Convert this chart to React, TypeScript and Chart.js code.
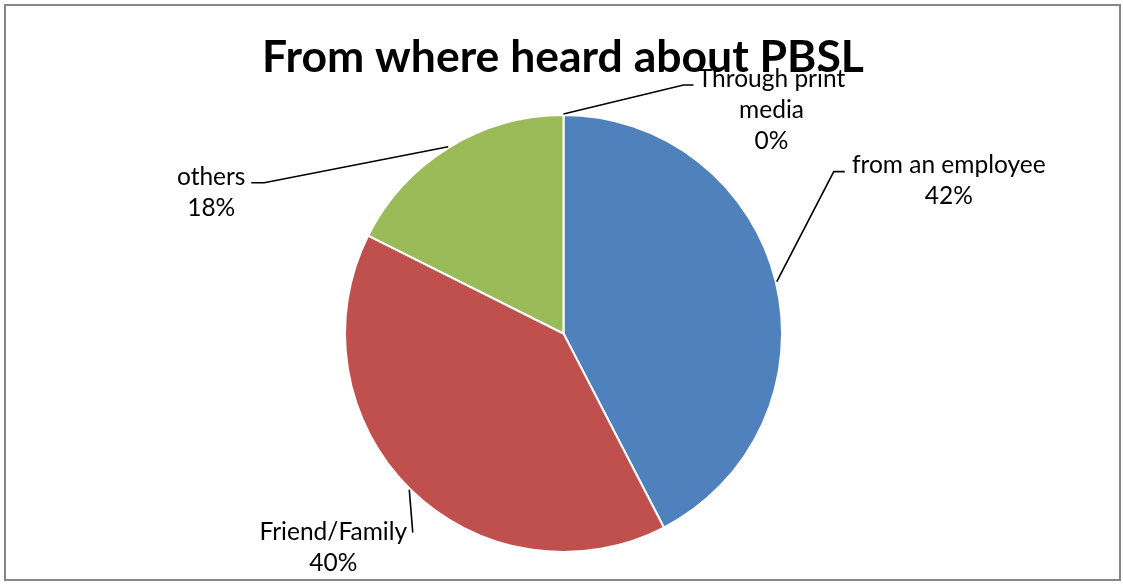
import React, { useEffect, useRef } from "react";
import { Chart, registerables } from "chart.js";

Chart.register(...registerables);

const TITLE = "From where heard about PBSL";
const categories = ["from an employee", "Friend/Family", "others", "Through print media"];
const labelLines = [["from an employee"], ["Friend/Family"], ["others"], ["Through print", "media"]];
const values = [42.4, 40.0, 17.6, 0];
const colors = ["#4F81BD", "#C0504D", "#9BBB59", "#8064A2"];

// label layout relative to the slice's anchor point on the rim
// elbow: leader bend, end: leader end, text: [centerX, firstLineY] offsets
const labelLayout = [
  { elbow: [57, -110], end: [68, -110], text: [172, -116] },
  { elbow: [3.5, 43], end: [3.5, 43], text: [-76, 42] },
  { elbow: [-184, 36], end: [-197, 36], text: [-237, 30] },
  { elbow: [120, -29], end: [130, -29], text: [208, -35] },
];

const FONT = "Lato, 'Open Sans', sans-serif";

const overlay = {
  id: "overlay",
  beforeDraw(chart: any) {
    const ctx = chart.ctx;
    ctx.save();
    ctx.fillStyle = "#ffffff";
    ctx.fillRect(0, 0, chart.width, chart.height);
    ctx.restore();
  },
  afterDatasetsDraw(chart: any) {
    const ctx = chart.ctx;
    const meta = chart.getDatasetMeta(0);
    const data = chart.data.datasets[0].data as number[];
    const total = data.reduce((a, b) => a + b, 0);
    ctx.save();
    // frame
    ctx.strokeStyle = "#878787";
    ctx.lineWidth = 2;
    ctx.strokeRect(5, 5, chart.width - 8, chart.height - 9);
    // title
    ctx.fillStyle = "#000";
    ctx.font = `bold 44.5px ${FONT}`;
    ctx.textAlign = "center";
    ctx.textBaseline = "alphabetic";
    ctx.fillText(TITLE, 563, 72);
    // labels
    meta.data.forEach((arc: any, i: number) => {
      const { x, y, startAngle, endAngle, outerRadius } = arc.getProps(
        ["x", "y", "startAngle", "endAngle", "outerRadius"],
        true
      );
      const mid = (startAngle + endAngle) / 2;
      const ax = x + Math.cos(mid) * (outerRadius + 1);
      const ay = y + Math.sin(mid) * (outerRadius + 1);
      const L = labelLayout[i];
      ctx.strokeStyle = "#000";
      ctx.lineWidth = 1.6;
      ctx.beginPath();
      ctx.moveTo(ax, ay);
      ctx.lineTo(ax + L.elbow[0], ay + L.elbow[1]);
      ctx.lineTo(ax + L.end[0], ay + L.end[1]);
      ctx.stroke();
      const lines = [...labelLines[i], Math.round((data[i] / total) * 100) + "%"];
      ctx.fillStyle = "#000";
      ctx.font = `24.5px ${FONT}`;
      ctx.textAlign = "center";
      ctx.textBaseline = "middle";
      lines.forEach((t, k) => {
        ctx.fillText(t, ax + L.text[0], ay + L.text[1] + k * 31);
      });
    });
    ctx.restore();
  },
};

export default function App() {
  const ref = useRef<HTMLCanvasElement | null>(null);
  useEffect(() => {
    document.body.style.margin = "0";
    const chart = new Chart(ref.current as HTMLCanvasElement, {
      type: "pie",
      data: {
        labels: categories,
        datasets: [
          {
            data: values,
            backgroundColor: colors,
            borderColor: "#ffffff",
            borderWidth: 2,
          },
        ],
      },
      options: {
        responsive: false,
        animation: false,
        devicePixelRatio: 1,
        layout: { padding: { top: 114, bottom: 31, left: 4, right: 0 } },
        plugins: {
          legend: { display: false },
          tooltip: { enabled: false },
          title: { display: false },
        },
      },
      plugins: [overlay],
    });
    return () => chart.destroy();
  }, []);
  return <canvas ref={ref} width={1123} height={584} style={{ display: "block" }} />;
}
